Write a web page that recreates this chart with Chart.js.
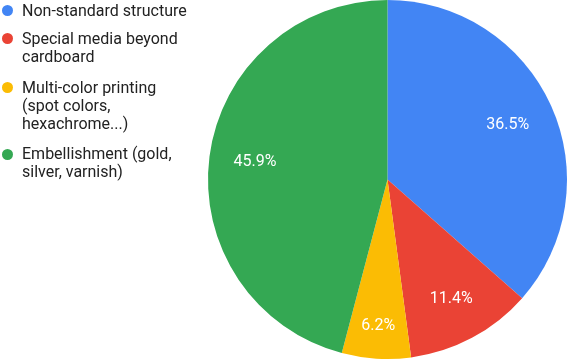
<!DOCTYPE html>
<html>
<head>
<meta charset="utf-8">
<script src="https://cdn.jsdelivr.net/npm/chart.js@4"></script>
<style>
  html, body { margin:0; padding:0; background:#fff; }
  #wrap { position:relative; width:568px; height:360px; }
  #c { position:absolute; left:0; top:0; }
  #legend { position:absolute; left:0; top:1.8px; width:205px; font-family: Roboto, sans-serif; font-size:16px; color:#222; }
  .item { position:relative; padding-left:22px; line-height:18.2px; margin-bottom:12px; white-space:nowrap; }
  .item:first-child { margin-bottom:10.1px; }
  .dot { position:absolute; left:1.7px; top:3.4px; width:11px; height:11px; border-radius:50%; }
</style>
</head>
<body>
<div id="wrap">
  <canvas id="c" width="568" height="360"></canvas>
  <div id="legend"></div>
</div>
<script>
const categories = ["Non-standard structure", "Special media beyond cardboard", "Multi-color printing (spot colors, hexachrome...)", "Embellishment (gold, silver, varnish)"];
const legendLines = [["Non-standard structure"], ["Special media beyond", "cardboard"], ["Multi-color printing", "(spot colors,", "hexachrome...)"], ["Embellishment (gold,", "silver, varnish)"]];
const values = [36.5, 11.4, 6.2, 45.9];
const colors = ["#4285F4", "#EA4335", "#FBBC04", "#34A853"];

const legend = document.getElementById('legend');
legendLines.forEach((lines, i) => {
  const d = document.createElement('div');
  d.className = 'item';
  const dot = document.createElement('span');
  dot.className = 'dot';
  dot.style.background = colors[i];
  d.appendChild(dot);
  lines.forEach((l, j) => {
    if (j) d.appendChild(document.createElement('br'));
    d.appendChild(document.createTextNode(l));
  });
  legend.appendChild(d);
});

// label distance from centre as a fraction of the radius (style, per slice)
const labelRadius = [0.735, 0.755, 0.817, 0.744];

const labelPlugin = {
  id: 'sliceLabels',
  afterDatasetsDraw(chart) {
    const ctx = chart.ctx;
    const meta = chart.getDatasetMeta(0);
    const total = values.reduce((a, b) => a + b, 0);
    ctx.save();
    ctx.fillStyle = '#fff';
    ctx.font = '16px Roboto, sans-serif';
    ctx.textAlign = 'center';
    ctx.textBaseline = 'middle';
    meta.data.forEach((arc, i) => {
      const p = arc.getProps(['x', 'y', 'startAngle', 'endAngle', 'outerRadius'], true);
      const mid = (p.startAngle + p.endAngle) / 2;
      const r = p.outerRadius * labelRadius[i];
      const x = p.x + Math.cos(mid) * r;
      const y = p.y + Math.sin(mid) * r;
      ctx.fillText((values[i] / total * 100).toFixed(1) + '%', x, y);
    });
    ctx.restore();
  }
};

new Chart(document.getElementById('c'), {
  type: 'pie',
  data: {
    labels: categories,
    datasets: [{
      data: values,
      backgroundColor: colors,
      borderWidth: 0
    }]
  },
  options: {
    responsive: false,
    animation: false,
    layout: { padding: { left: 208, right: 1, top: 0, bottom: 1 } },
    plugins: { legend: { display: false }, tooltip: { enabled: false } }
  },
  plugins: [labelPlugin]
});
</script>
</body>
</html>
